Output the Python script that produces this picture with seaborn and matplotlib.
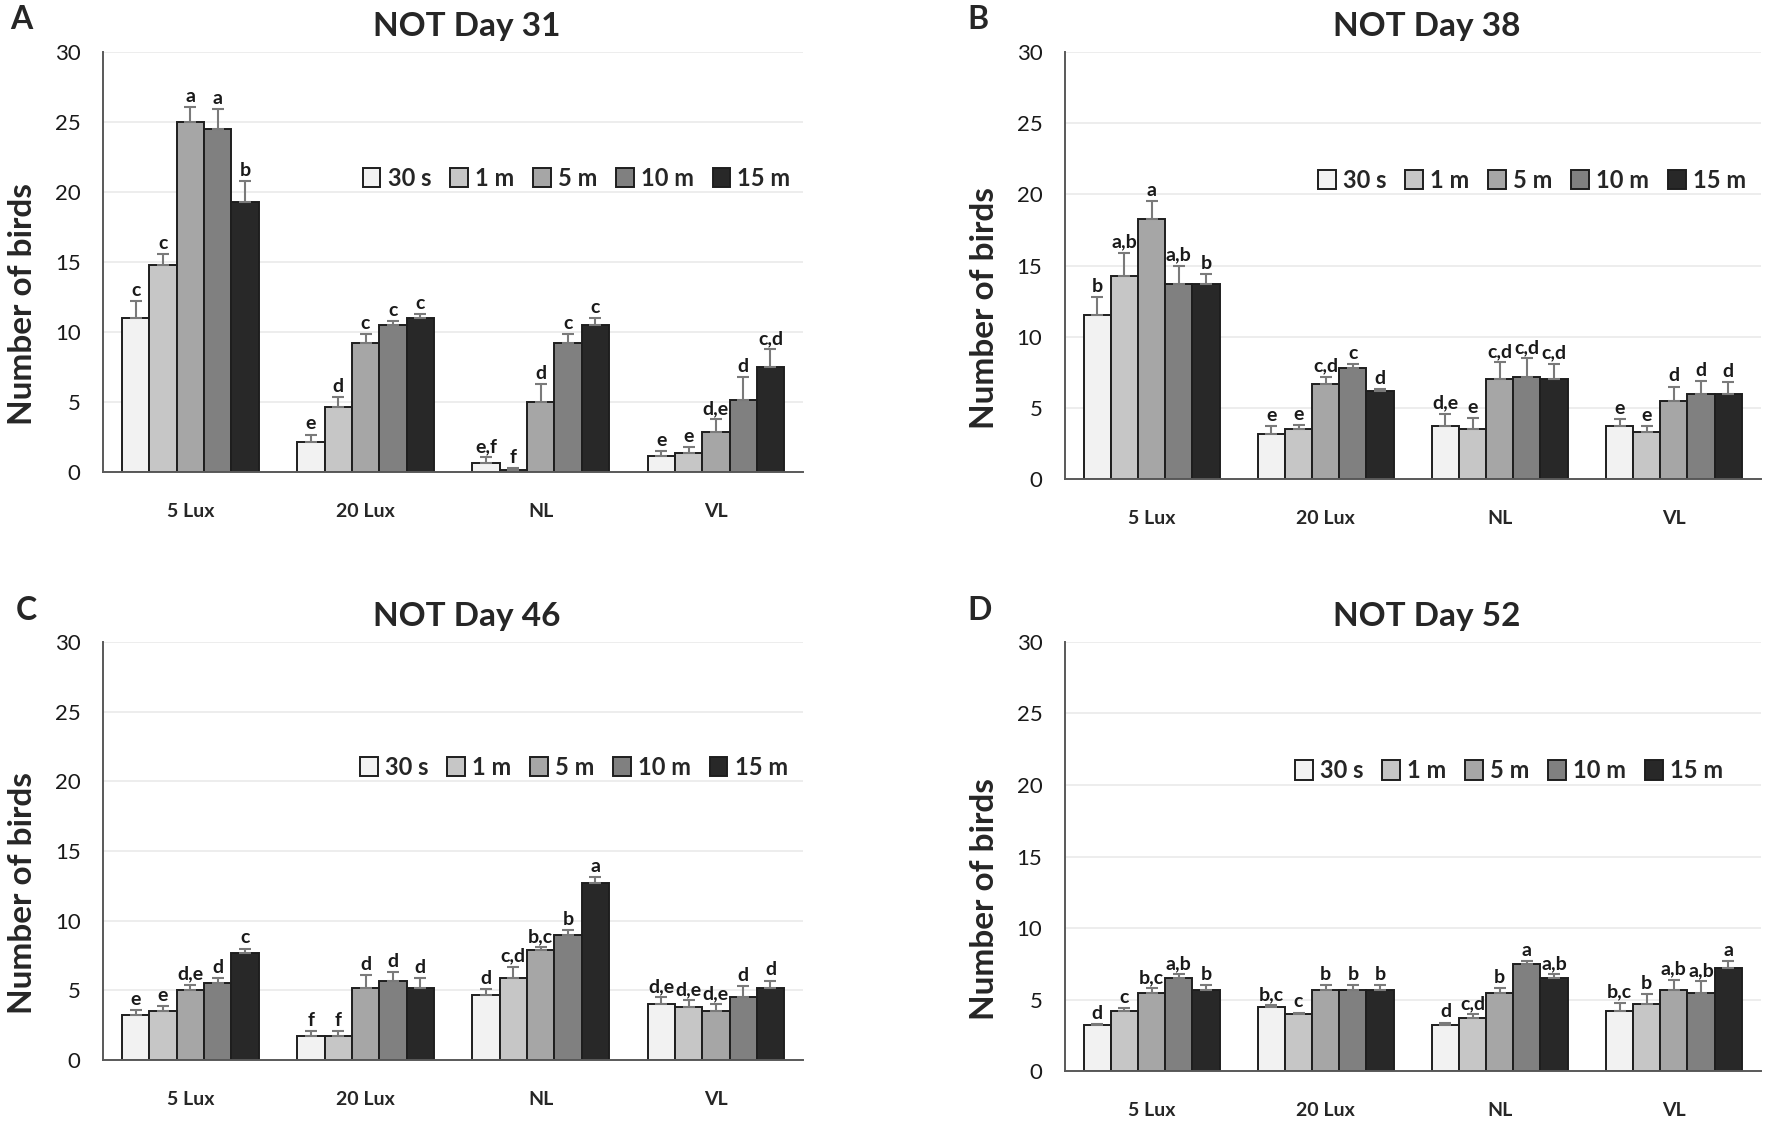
"""Four-panel bar chart: number of birds per light treatment and test duration (NOT days 31-52)."""

import matplotlib

matplotlib.use("Agg")
import matplotlib.pyplot as plt
import numpy as np
import pandas as pd
import seaborn as sns
from matplotlib.patches import Patch

LIGHT = ["5 Lux", "20 Lux", "NL", "VL"]
DURATIONS = ["30 s", "1 m", "5 m", "10 m", "15 m"]
COLORS = ["#f2f2f2", "#c6c6c6", "#a6a6a6", "#808080", "#282828"]

# rows follow LIGHT, columns follow DURATIONS
day31_mean = [[11.0, 14.8, 25.0, 24.5, 19.3],
              [2.2, 4.7, 9.2, 10.5, 11.0],
              [0.7, 0.2, 5.0, 9.2, 10.5],
              [1.2, 1.4, 2.9, 5.2, 7.5]]
day31_err = [[1.2, 0.8, 1.1, 1.4, 1.5],
             [0.5, 0.7, 0.7, 0.3, 0.3],
             [0.4, 0.1, 1.3, 0.7, 0.5],
             [0.3, 0.4, 0.9, 1.6, 1.3]]
day31_letters = [["c", "c", "a", "a", "b"],
                 ["e", "d", "c", "c", "c"],
                 ["e,f", "f", "d", "c", "c"],
                 ["e", "e", "d,e", "d", "c,d"]]

day38_mean = [[11.5, 14.3, 18.3, 13.7, 13.7],
              [3.2, 3.5, 6.7, 7.8, 6.2],
              [3.7, 3.5, 7.0, 7.2, 7.0],
              [3.7, 3.3, 5.5, 6.0, 6.0]]
day38_err = [[1.3, 1.6, 1.2, 1.3, 0.7],
             [0.5, 0.3, 0.5, 0.3, 0.1],
             [0.9, 0.8, 1.2, 1.3, 1.1],
             [0.5, 0.4, 1.0, 0.9, 0.8]]
day38_letters = [["b", "a,b", "a", "a,b", "b"],
                 ["e", "e", "c,d", "c", "d"],
                 ["d,e", "e", "c,d", "c,d", "c,d"],
                 ["e", "e", "d", "d", "d"]]

day46_mean = [[3.2, 3.5, 5.0, 5.5, 7.7],
              [1.7, 1.7, 5.2, 5.7, 5.2],
              [4.7, 5.9, 7.9, 9.0, 12.7],
              [4.0, 3.8, 3.5, 4.5, 5.2]]
day46_err = [[0.4, 0.4, 0.4, 0.4, 0.3],
             [0.4, 0.4, 0.9, 0.6, 0.7],
             [0.4, 0.8, 0.2, 0.3, 0.4],
             [0.5, 0.5, 0.5, 0.8, 0.5]]
day46_letters = [["e", "e", "d,e", "d", "c"],
                 ["f", "f", "d", "d", "d"],
                 ["d", "c,d", "b,c", "b", "a"],
                 ["d,e", "d,e", "d,e", "d", "d"]]

day52_mean = [[3.2, 4.2, 5.5, 6.5, 5.7],
              [4.5, 4.0, 5.7, 5.7, 5.7],
              [3.2, 3.7, 5.5, 7.5, 6.5],
              [4.2, 4.7, 5.7, 5.5, 7.2]]
day52_err = [[0.1, 0.2, 0.3, 0.3, 0.3],
             [0.1, 0.1, 0.3, 0.3, 0.3],
             [0.2, 0.3, 0.3, 0.2, 0.3],
             [0.6, 0.7, 0.7, 0.8, 0.5]]
day52_letters = [["d", "c", "b,c", "a,b", "b"],
                 ["b,c", "c", "b", "b", "b"],
                 ["d", "c,d", "b", "a", "a,b"],
                 ["b,c", "b", "a,b", "a,b", "a"]]

FONT = ["Lato", "DejaVu Sans"]
AXIS_GREY = "#595959"


def draw_panel(ax, mean, err, letters, title, legend_x):
    df = pd.DataFrame({
        "Light": np.repeat(LIGHT, len(DURATIONS)),
        "Duration": DURATIONS * len(LIGHT),
        "Birds": np.ravel(mean),
    })
    ax.grid(axis="y", color="#ececec", linewidth=1.3, zorder=0)
    ax.set_axisbelow(True)
    sns.barplot(data=df, x="Light", y="Birds", hue="Duration", order=LIGHT,
                hue_order=DURATIONS, palette=COLORS, width=0.78, errorbar=None,
                edgecolor="#1e1e1e", linewidth=1.4, legend=False, ax=ax, zorder=2)

    err = np.asarray(err)
    bar_sets = list(ax.containers)
    for k, cont in enumerate(bar_sets):
        for j, bar in enumerate(cont.patches):
            x = bar.get_x() + bar.get_width() / 2
            h = bar.get_height()
            e = err[j, k]
            ax.errorbar(x, h, yerr=[[0], [e]], fmt="none", ecolor="#7a7a7a",
                        elinewidth=1.5, capsize=4, capthick=1.5, zorder=3)
            ax.annotate(letters[j][k], (x, h + e), xytext=(0, 1.5),
                        textcoords="offset points", ha="center", va="bottom",
                        fontsize=14, fontweight="bold", color="#1a1a1a")

    ax.set_ylim(0, 30)
    ax.set_xlim(-0.5, len(LIGHT) - 0.5)
    ax.set_yticks(range(0, 31, 5))
    ax.set_xticks(range(len(LIGHT)))
    ax.set_xticklabels(LIGHT, fontsize=14, fontweight="bold")
    ax.set_xticks(np.arange(-0.5, len(LIGHT)), minor=True)
    ax.tick_params(axis="x", which="major", length=0, pad=22)
    ax.tick_params(axis="x", which="minor", length=6, width=1.3, color=AXIS_GREY)
    ax.tick_params(axis="y", length=6, width=1.3, color=AXIS_GREY, labelsize=16,
                   labelcolor="#1a1a1a", pad=10)
    for side in ("top", "right"):
        ax.spines[side].set_visible(False)
    for side in ("left", "bottom"):
        ax.spines[side].set_color(AXIS_GREY)
        ax.spines[side].set_linewidth(1.4)

    ax.set_xlabel("")
    ax.set_ylabel("Number of birds", fontsize=24, fontweight="bold")
    ax.yaxis.set_label_coords(-0.094, 0.40)
    ax.text(0.52, 1.06, title, transform=ax.transAxes, ha="center", va="center",
            fontsize=24, fontweight="bold")

    handles = [Patch(facecolor=c, edgecolor="#1e1e1e", linewidth=1.4) for c in COLORS]
    ax.legend(handles, DURATIONS, ncol=5, loc="center right",
              bbox_to_anchor=(legend_x, 0.70), frameon=False,
              prop={"family": FONT, "weight": "bold", "size": 17},
              handlelength=0.75, handleheight=0.9, handletextpad=0.3,
              columnspacing=0.8, borderaxespad=0)


def main():
    sns.set_style("white")
    plt.rcParams["font.family"] = FONT

    fig = plt.figure(figsize=(17.72, 11.21), dpi=100)
    panels = [
        ([0.058, 0.5786, 0.3954, 0.375], day31_mean, day31_err, day31_letters, "NOT Day 31", 0.995, "A", (0.006, 0.983)),
        ([0.6008, 0.5726, 0.3929, 0.381], day38_mean, day38_err, day38_letters, "NOT Day 38", 0.992, "B", (0.546, 0.983)),
        ([0.058, 0.0544, 0.3954, 0.373], day46_mean, day46_err, day46_letters, "NOT Day 46", 0.991, "C", (0.009, 0.455)),
        ([0.6008, 0.0444, 0.3929, 0.383], day52_mean, day52_err, day52_letters, "NOT Day 52", 0.959, "D", (0.546, 0.455)),
    ]
    for rect, mean, err, letters, title, lx, tag, tag_xy in panels:
        ax = fig.add_axes(rect)
        draw_panel(ax, mean, err, letters, title, lx)
        fig.text(tag_xy[0], tag_xy[1], tag, ha="left", va="center",
                 fontsize=23, fontweight="bold")

    fig.savefig("out.png", dpi=100, facecolor="white")
    plt.close(fig)


if __name__ == "__main__":
    main()
